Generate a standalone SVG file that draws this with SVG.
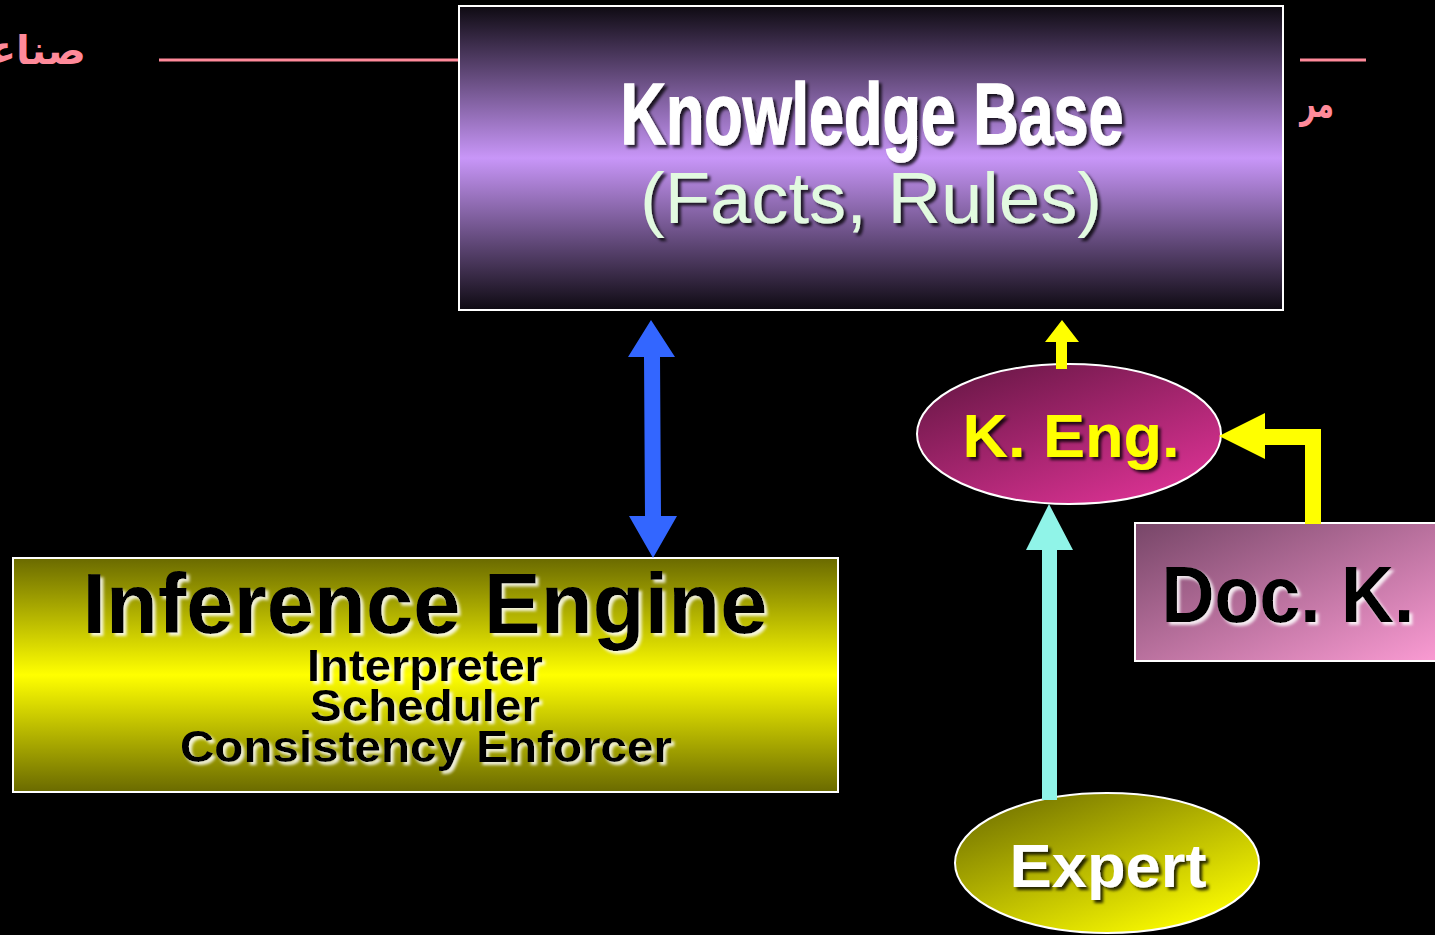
<svg xmlns="http://www.w3.org/2000/svg" width="1435" height="935" viewBox="0 0 1435 935">
<style>
.bold{font-family:"Liberation Sans",Arial,sans-serif;font-weight:bold}
.reg{font-family:"Liberation Sans",Arial,sans-serif}
.ar{font-family:"DejaVu Sans","Noto Sans",sans-serif;fill:#FF8A9A;font-weight:bold}
.frame{stroke:#FFFFFF;stroke-width:2}
</style>
<defs>
<linearGradient id="kbGrad" x1="0" y1="0" x2="0" y2="1">
<stop offset="0" stop-color="#0e0a12"/>
<stop offset="0.5" stop-color="#C896F8"/>
<stop offset="1" stop-color="#0e0a12"/>
</linearGradient>
<linearGradient id="ieGrad" x1="0" y1="0" x2="0" y2="1">
<stop offset="0" stop-color="#6A6A00"/>
<stop offset="0.5" stop-color="#FFFF00"/>
<stop offset="1" stop-color="#6A6A00"/>
</linearGradient>
<linearGradient id="keGrad" x1="0.15" y1="0.05" x2="0.85" y2="0.95">
<stop offset="0" stop-color="#6C1848"/>
<stop offset="1" stop-color="#DC3294"/>
</linearGradient>
<linearGradient id="dkGrad" x1="0" y1="0" x2="1" y2="1">
<stop offset="0" stop-color="#774668"/>
<stop offset="1" stop-color="#FC9CD4"/>
</linearGradient>
<linearGradient id="exGrad" x1="0.15" y1="0.05" x2="0.85" y2="0.95">
<stop offset="0" stop-color="#767600"/>
<stop offset="1" stop-color="#FFFF00"/>
</linearGradient>
<filter id="darkShadow" x="-10%" y="-20%" width="120%" height="140%">
<feDropShadow dx="3" dy="3" stdDeviation="1.5" flood-color="#000000" flood-opacity="0.8"/>
</filter>
<filter id="lightShadow" x="-10%" y="-20%" width="120%" height="140%">
<feDropShadow dx="3" dy="3" stdDeviation="1.5" flood-color="#FFFFFF" flood-opacity="0.85"/>
</filter>
</defs>
<rect x="0" y="0" width="1435" height="935" fill="#000000"/>

<g id="header">
<line x1="159" y1="60" x2="459" y2="60" stroke="#FF8A9A" stroke-width="3"/>
<line x1="1300" y1="60" x2="1366" y2="60" stroke="#FF8A9A" stroke-width="3"/>
<text class="ar" x="86" y="64" font-size="40" text-anchor="end">صناعة</text>
<text class="ar" x="1334" y="117" font-size="40" text-anchor="end" textLength="34" lengthAdjust="spacingAndGlyphs">مر</text>
</g>

<g id="knowledge-base">
<rect x="459" y="6" width="824" height="304" fill="url(#kbGrad)" class="frame"/>
<text class="bold" x="872" y="144" font-size="88" fill="#FFFFFF" stroke="#FFFFFF" stroke-width="1.5" text-anchor="middle" textLength="503" lengthAdjust="spacingAndGlyphs" filter="url(#darkShadow)">Knowledge Base</text>
<text class="reg" x="871" y="223" font-size="72" fill="#E2FAE0" text-anchor="middle" textLength="462" lengthAdjust="spacingAndGlyphs" filter="url(#darkShadow)">(Facts, Rules)</text>
</g>

<g id="inference-engine">
<rect x="13" y="558" width="825" height="234" fill="url(#ieGrad)" class="frame"/>
<text class="bold" x="425" y="633" font-size="86" fill="#000000" text-anchor="middle" textLength="685" lengthAdjust="spacingAndGlyphs" filter="url(#lightShadow)">Inference Engine</text>
<text class="bold" x="425" y="681" font-size="44" fill="#000000" text-anchor="middle" textLength="236" lengthAdjust="spacingAndGlyphs" filter="url(#lightShadow)">Interpreter</text>
<text class="bold" x="425" y="721" font-size="44" fill="#000000" text-anchor="middle" textLength="230" lengthAdjust="spacingAndGlyphs" filter="url(#lightShadow)">Scheduler</text>
<text class="bold" x="426" y="762" font-size="44" fill="#000000" text-anchor="middle" textLength="492" lengthAdjust="spacingAndGlyphs" filter="url(#lightShadow)">Consistency Enforcer</text>
</g>

<g id="k-eng">
<ellipse cx="1069" cy="434" rx="152" ry="70" fill="url(#keGrad)" class="frame"/>
<text class="bold" x="1071" y="457" font-size="62" fill="#FFFF00" text-anchor="middle" textLength="217" lengthAdjust="spacingAndGlyphs" filter="url(#darkShadow)">K. Eng.</text>
</g>

<g id="doc-k">
<rect x="1135" y="523" width="310" height="138" fill="url(#dkGrad)" class="frame"/>
<text class="bold" x="1288" y="622" font-size="80" fill="#000000" text-anchor="middle" textLength="253" lengthAdjust="spacingAndGlyphs" filter="url(#lightShadow)">Doc. K.</text>
</g>

<g id="expert">
<ellipse cx="1107" cy="863" rx="152" ry="70" fill="url(#exGrad)" class="frame"/>
<text class="bold" x="1108" y="887" font-size="62" fill="#FFFFFF" text-anchor="middle" textLength="197" lengthAdjust="spacingAndGlyphs" filter="url(#darkShadow)">Expert</text>
</g>

<g id="connectors">
<polygon points="651,320 675,357 660,357 661,516 677,516 653,558 629,516 645,516 644,357 628,357" fill="#3366FF"/>
<polygon points="1062,320 1079,342 1067,342 1067,369 1056,369 1056,342 1045,342" fill="#FFFF00"/>
<polygon points="1219,436 1265,413 1265,429 1321,429 1321,524 1305,524 1305,445 1265,445 1265,459" fill="#FFFF00"/>
<polygon points="1049,504 1073,550 1057,550 1057,800 1042,800 1042,550 1026,550" fill="#90F4E8"/>
</g>
</svg>
